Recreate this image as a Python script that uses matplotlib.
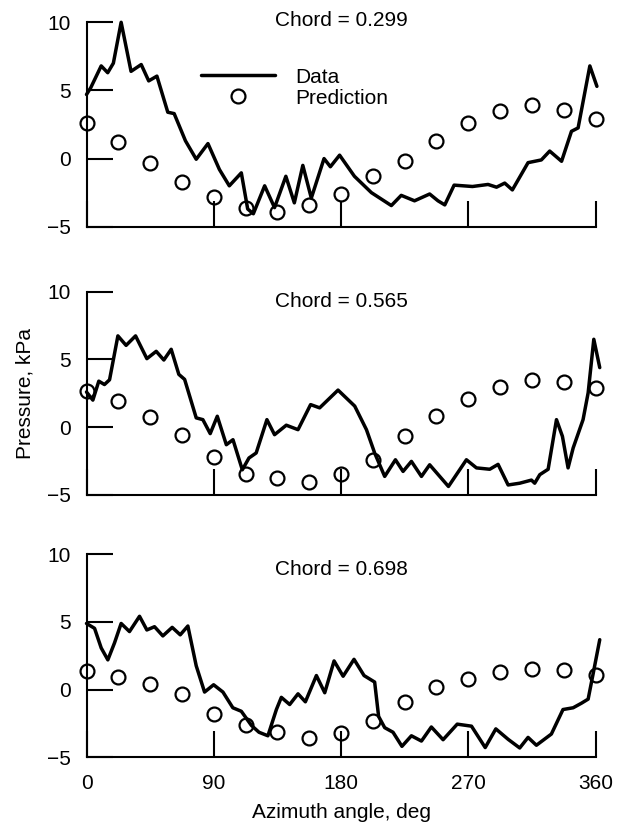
import matplotlib
matplotlib.use('Agg')
import matplotlib.pyplot as plt

plt.rcParams['font.family'] = ['Liberation Sans', 'DejaVu Sans']

# ---------------- data ----------------
chords = ['0.299', '0.565', '0.698']

angle1 = [0, 3, 10.4, 15, 19, 24.5, 31.5, 38.7, 44, 49.8, 57.5, 62, 70, 77.6, 85.9, 94, 101,
          109.5, 114, 118, 126, 133, 141, 147, 153, 159, 168, 172.5, 179, 189.5, 201.5, 215.6,
          222.6, 232, 242.7, 248.6, 253.4, 260, 273, 284, 290, 295.8, 301.2, 312.3, 321.7,
          327.6, 336, 343, 347.7, 356, 361]
data1 = [4.7, 5.2, 6.8, 6.3, 7.0, 10.0, 6.4, 6.9, 5.7, 6.05, 3.4, 3.3, 1.3, -0.05, 1.1, -0.8,
         -2.0, -1.05, -3.7, -4.05, -2.0, -3.6, -1.3, -3.25, -0.5, -2.9, 0.0, -0.6, 0.25, -1.3,
         -2.5, -3.45, -2.7, -3.1, -2.6, -3.1, -3.4, -1.95, -2.05, -1.9, -2.1, -1.8, -2.3, -0.3,
         -0.1, 0.55, -0.2, 2.0, 2.25, 6.8, 5.3]

angle2 = [0, 4.5, 8.7, 12.7, 16.3, 22.2, 28, 34.7, 42.7, 49.3, 54.7, 59.9, 65.3, 69.4, 77.6,
          82.3, 87.5, 92.5, 98.9, 103.6, 110.2, 114.9, 120, 127.6, 133, 141.3, 149.6, 158.5,
          164.9, 177.9, 189.7, 198, 203.8, 210.9, 218.5, 223.9, 229.8, 236.9, 242.7, 256,
          268.7, 275.8, 285.2, 291.1, 298.2, 306.4, 314.7, 317, 320.6, 326.5, 332.4, 336.6,
          340.6, 344.2, 351.2, 354.8, 358.8, 363]
data2 = [2.6, 2.0, 3.4, 3.15, 3.5, 6.74, 6.04, 6.74, 5.06, 5.6, 4.96, 5.75, 3.9, 3.53, 0.69,
         0.56, -0.47, 0.81, -1.29, -0.92, -3.14, -2.27, -1.9, 0.56, -0.55, 0.15, -0.18, 1.67,
         1.43, 2.74, 1.56, -0.18, -1.9, -3.63, -2.4, -3.26, -2.52, -3.63, -2.77, -4.37, -2.4,
         -3.0, -3.1, -2.74, -4.26, -4.13, -3.9, -4.13, -3.5, -3.1, 0.56, -0.67, -3.0, -1.53,
         0.56, 2.54, 6.49, 4.4]

angle3 = [0, 5.7, 10.4, 15.1, 19.8, 24.5, 30.4, 37.5, 42.7, 48.1, 54, 60.6, 66.3, 71.7, 77.6,
          83.5, 89.9, 96.5, 103.5, 109.5, 116.6, 122, 128.3, 134.3, 137.8, 143.7, 149.6, 154.8,
          162.6, 168.5, 175.1, 181.5, 189.2, 196.3, 203.8, 206.6, 210.9, 216.8, 223.1, 229.8,
          236.9, 243.9, 252.2, 262.2, 272.3, 282, 289.5, 298.2, 306.4, 312.3, 318.2, 328.8,
          337, 344.2, 350.1, 354.8, 358.3, 363]
data3 = [4.89, 4.53, 3.08, 2.2, 3.45, 4.89, 4.29, 5.42, 4.41, 4.65, 3.97, 4.6, 4.05, 4.7, 1.76,
         -0.18, 0.36, -0.18, -1.34, -1.6, -2.64, -3.15, -3.41, -1.47, -0.57, -1.1, -0.31, -0.9,
         1.04, -0.23, 2.12, 0.99, 2.24, 1.04, 0.56, -1.98, -2.81, -3.15, -4.19, -3.41, -3.8,
         -2.76, -3.7, -2.55, -2.7, -4.28, -2.9, -3.67, -4.31, -3.53, -4.11, -3.28, -1.47,
         -1.34, -1.0, -0.7, 1.16, 3.69]

pred_angle = [0, 22.5, 45, 67.5, 90, 112.5, 135, 157.5, 180, 202.5, 225, 247.5, 270, 292.5,
              315, 337.5, 360]
pred1 = [2.6, 1.2, -0.3, -1.75, -2.85, -3.65, -3.95, -3.4, -2.6, -1.25, -0.15, 1.3, 2.6, 3.5,
         3.9, 3.6, 2.9]
pred2 = [2.65, 1.95, 0.75, -0.55, -2.2, -3.45, -3.75, -4.05, -3.45, -2.4, -0.65, 0.8, 2.1,
         2.95, 3.45, 3.35, 2.9]
pred3 = [1.4, 0.9, 0.45, -0.35, -1.8, -2.65, -3.15, -3.55, -3.2, -2.3, -0.9, 0.2, 0.75, 1.3,
         1.5, 1.45, 1.05]

x_ticks = [0, 90, 180, 270, 360]
x_tick_labels = ['0', '90', '180', '270', '360']
y_ticks = [-5, 0, 5, 10]
y_tick_labels = ['\u22125', '0', '5', '10']
chord_label_y = [10.1, 9.3, 8.85]

angles = [angle1, angle2, angle3]
datas = [data1, data2, data3]
preds = [pred1, pred2, pred3]

# ---------------- layout ----------------
W, H = 627, 827
fig = plt.figure(figsize=(W / 100, H / 100), dpi=100)
left_px, right_px = 86.5, 595.5
rows_px = [(22.3, 226.7), (291.7, 495.0), (554.3, 757.3)]

axes = []
for i, (top, bot) in enumerate(rows_px):
    ax = fig.add_axes([left_px / W, 1 - bot / H, (right_px - left_px) / W, (bot - top) / H])
    axes.append(ax)
    line, = ax.plot(angles[i], datas[i], color='black', lw=2.5, solid_joinstyle='round',
                    solid_capstyle='round', clip_on=False, zorder=2, label='Data')
    pts, = ax.plot(pred_angle, preds[i], linestyle='none', marker='o', mfc='none', mec='black',
                   ms=10, mew=1.6, clip_on=False, zorder=3, label='Prediction')
    ax.set_xlim(0, 360)
    ax.set_ylim(-5, 10)
    ax.set_xticks(x_ticks)
    ax.set_yticks(y_ticks)
    ax.set_yticklabels(y_tick_labels)
    ax.set_xticklabels(x_tick_labels)
    for s in ['top', 'right']:
        ax.spines[s].set_visible(False)
    for s in ['left', 'bottom']:
        ax.spines[s].set_linewidth(1.5)
    ax.tick_params(direction='in', length=18.7, width=1.5, labelsize=15, colors='black')
    ax.tick_params(axis='x', pad=12)
    ax.tick_params(axis='y', pad=11.5)
    if i < 2:
        ax.tick_params(axis='x', labelbottom=False)
    ax.text(180, chord_label_y[i], 'Chord = ' + chords[i], ha='center', va='center', fontsize=15)
    if i == 0:
        ax.legend(handles=[line, pts], loc='upper left', bbox_to_anchor=(0.2253, 0.778),
                  frameon=False, borderpad=0, borderaxespad=0, handlelength=3.54,
                  handletextpad=0.98, labelspacing=0.1, fontsize=15, numpoints=1)

axes[1].set_ylabel('Pressure, kPa', fontsize=15, labelpad=9)
axes[2].set_xlabel('Azimuth angle, deg', fontsize=15, labelpad=7.5)

fig.savefig('out.png', dpi=100)
